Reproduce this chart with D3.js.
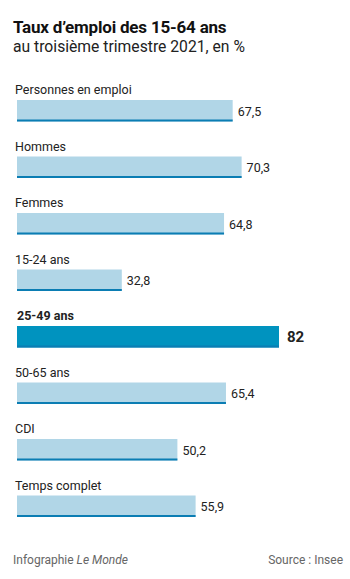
<!DOCTYPE html>
<html>
<head>
<meta charset="utf-8">
<script src="https://cdn.jsdelivr.net/npm/d3@7"></script>
<style>
  body { margin: 0; background: #fff; }
  text { font-family: Roboto, "Noto Sans", sans-serif; }
</style>
</head>
<body>
<svg id="chart"></svg>
<script>
const categories = ["Personnes en emploi", "Hommes", "Femmes", "15-24 ans", "25-49 ans", "50-65 ans", "CDI", "Temps complet"];
const values = [67.5, 70.3, 64.8, 32.8, 82, 65.4, 50.2, 55.9];
const valueLabels = ["67,5", "70,3", "64,8", "32,8", "82", "65,4", "50,2", "55,9"];
const highlight = "25-49 ans";

const width = 350, height = 579;
const data = categories.map((c, i) => ({cat: c, value: values[i], label: valueLabels[i]}));

const svg = d3.select("#chart")
    .attr("width", width)
    .attr("height", height);

// title
svg.append("text")
    .attr("x", 13).attr("y", 33)
    .attr("font-size", 17).attr("font-weight", "bold")
    .attr("fill", "#111")
    .attr("letter-spacing", -0.2)
    .text("Taux d\u2019emploi des 15-64 ans");

svg.append("text")
    .attr("x", 13).attr("y", 52)
    .attr("font-size", 15.7).attr("fill", "#222")
    .text("au troisi\u00e8me trimestre 2021, en %");

const xscale = d3.scaleLinear()
    .domain([0, 82])
    .range([17, 279]);

const yscale = d3.scaleBand()
    .domain(categories)
    .range([100, 100 + 56.5 * categories.length])
    .paddingInner(0)
    .paddingOuter(0);

const barH = 21.5;

const row = svg.selectAll("g.row")
    .data(data)
    .enter()
    .append("g")
    .attr("class", "row")
    .attr("transform", d => `translate(0,${yscale(d.cat)})`);

row.append("text")
    .attr("x", d => d.cat === highlight ? 17 : 15)
    .attr("y", -6)
    .attr("font-size", 12.5)
    .attr("font-weight", d => d.cat === highlight ? "bold" : "normal")
    .attr("fill", "#222")
    .text(d => d.cat);

row.append("rect")
    .attr("x", xscale(0))
    .attr("y", 0)
    .attr("width", d => xscale(d.value) - xscale(0))
    .attr("height", barH)
    .attr("fill", d => d.cat === highlight ? "#0093bf" : "#b1d6e7");

row.append("rect")
    .attr("x", xscale(0))
    .attr("y", barH - 2)
    .attr("width", d => xscale(d.value) - xscale(0))
    .attr("height", 2)
    .attr("fill", "#0b7db3");

row.append("text")
    .attr("x", d => xscale(d.value) + (d.cat === highlight ? 8 : 5))
    .attr("y", barH / 2 + 5)
    .attr("font-size", d => d.cat === highlight ? 15 : 12.5)
    .attr("font-weight", d => d.cat === highlight ? "bold" : "normal")
    .attr("fill", "#222")
    .text(d => d.label);

// footer
const foot = svg.append("text")
    .attr("x", 13).attr("y", 564)
    .attr("font-size", 12).attr("fill", "#666");
foot.append("tspan").text("Infographie ");
foot.append("tspan").attr("font-style", "italic").text("Le Monde");

svg.append("text")
    .attr("x", 343).attr("y", 564)
    .attr("text-anchor", "end")
    .attr("font-size", 12).attr("fill", "#666")
    .text("Source : Insee");
</script>
</body>
</html>
